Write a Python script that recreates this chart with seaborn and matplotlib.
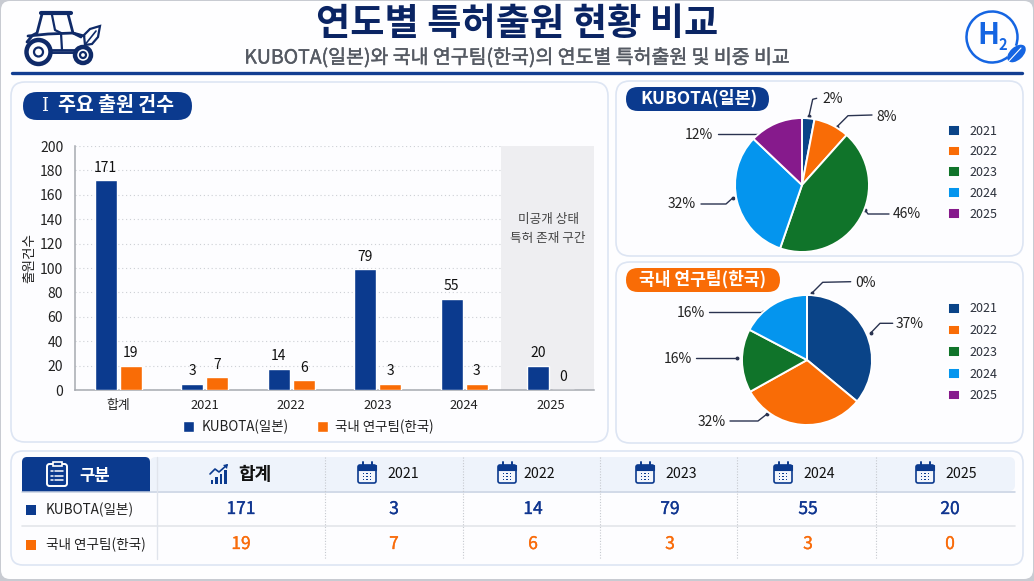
import numpy as np
import pandas as pd
import matplotlib
matplotlib.use("Agg")
import matplotlib.pyplot as plt
import matplotlib.patheffects as pe
import seaborn as sns
from matplotlib.patches import FancyBboxPatch, Rectangle, Circle, Ellipse, Arc, Polygon

# datos
grupos = ["합계", "2021", "2022", "2023", "2024", "2025"]
anios = ["2021", "2022", "2023", "2024", "2025"]
kubota_altura = [172, 5, 17.5, 99, 75, 20]
korea_altura = [20, 10.5, 8, 5, 5, 0]
kubota_labels = ["171", "3", "14", "79", "55", "20"]
korea_labels = ["19", "7", "6", "3", "3", "0"]
pie_kubota = [3.0, 8.6, 43.7, 31.8, 12.9]
pie_korea = [36.0, 30.9, 15.8, 17.3, 0.0]
pie_kubota_labels = ["2%", "8%", "46%", "32%", "12%"]
pie_korea_labels = ["37%", "32%", "16%", "16%", "0%"]

AZUL = "#0B3A8E"
NARANJA = "#F96C06"
MARINO = "#0A2463"
colores_pie = ["#0A4488", "#F96C06", "#10742A", "#0495EE", "#861A8C"]
BORDE = "#DDE5F3"

sns.set_theme(style="white")
plt.rcParams["font.family"] = ["Noto Sans CJK KR", "DejaVu Sans"]

W, H = 1034, 581
fig = plt.figure(figsize=(W / 100, H / 100), dpi=100, facecolor="#C8CBD2")

# lienzo en pixeles para paneles e iconos
bg = fig.add_axes([0, 0, 1, 1], zorder=0)
bg.set_xlim(0, W)
bg.set_ylim(H, 0)
bg.axis("off")


def ejes_px(x0, y0, x1, y1, **kw):
    return fig.add_axes([x0 / W, 1 - y1 / H, (x1 - x0) / W, (y1 - y0) / H], **kw)


def caja(x0, y0, x1, y1, r, fc, ec="none", lw=1, z=1):
    p = FancyBboxPatch((x0, y0), x1 - x0, y1 - y0, boxstyle=f"round,pad=0,rounding_size={r}",
                       fc=fc, ec=ec, lw=lw, zorder=z)
    bg.add_patch(p)


def linea(xs, ys, c="#2A3350", lw=1.0, z=5, **kw):
    bg.plot(xs, ys, color=c, lw=lw, zorder=z, solid_capstyle="round", **kw)


def medio(t, w=0.2):
    # la fuente no trae peso medio: se engrosa un poco el trazo
    t.set_path_effects([pe.withStroke(linewidth=w, foreground=t.get_color())])
    return t


def calendario(cx, cy):
    caja(cx - 9, cy - 8, cx + 9, cy + 10, 2, "#F3F6FC", AZUL, 1.2, 4)
    bg.add_patch(Rectangle((cx - 9, cy - 8), 18, 5, fc=AZUL, ec=AZUL, lw=0.8, zorder=4))
    for dx in (-4.5, 4.5):
        linea([cx + dx, cx + dx], [cy - 11, cy - 6], AZUL, 1.4)
    for dx in (-3.5, 0, 3.5):
        for dy in (0.5, 3.5, 6.5):
            bg.add_patch(Rectangle((cx + dx - 0.8, cy + dy - 0.8), 1.6, 1.6, fc=AZUL, ec="none", zorder=5))


def hoja(cx, cy, w, h, ang, c):
    bg.add_patch(Ellipse((cx, cy), w, h, angle=ang, fc=c, ec="none", zorder=5))


# pagina y tarjetas
caja(1, 1, 1033, 579, 9, "#FEFEFF", z=0.5)
caja(11, 82, 608, 442, 14, "#FDFDFF", BORDE, 1.2)
caja(616, 81, 1023, 256, 14, "#FDFDFF", BORDE, 1.2)
caja(616, 262, 1023, 443, 14, "#FDFDFF", BORDE, 1.2)
caja(11, 451, 1023, 565, 12, "#FDFDFF", BORDE, 1.2)

# cabecera
bg.text(517, 24, "연도별 특허출원 현황 비교", ha="center", va="center", fontsize=26.8,
        fontweight="bold", color=MARINO)
medio(bg.text(517, 58, "KUBOTA(일본)와 국내 연구팀(한국)의 연도별 특허출원 및 비중 비교", ha="center",
              va="center", fontsize=14, color="#555A63"), 0.3)
linea([12, 1022], [73, 73], "#123E92", 2.4)

# tractor
N = "#0F2A68"
linea([41, 71], [13, 13], N, 3)
linea([42, 37, 33], [14, 33, 35], N, 2)
linea([68, 73, 84], [14, 33, 36], N, 2)
linea([52, 55, 61, 62], [15, 30, 33, 50], N, 1.6)
linea([28, 48, 73, 81], [36, 34, 33, 37], N, 2)
linea([27, 32], [42, 36], N, 2)
linea([50, 75], [50, 50], N, 2)
linea([52, 74], [53, 53], N, 1.4)
for cx, cy, r, r2 in [(38.5, 52, 12, 4.5), (83, 55, 8, 3)]:
    bg.add_patch(Circle((cx, cy), r, fc="white", ec=N, lw=3.2, zorder=4))
    bg.add_patch(Circle((cx, cy), r2, fc="white", ec=N, lw=1.6, zorder=5))
bg.add_patch(Polygon([[85, 45], [84, 35], [90, 29], [100, 26], [98, 37], [92, 44]], closed=True,
                     fc="white", ec=N, lw=1.6, zorder=4))
linea([84, 96], [46, 31], N, 1.2)

# logo H2
AZ_H = "#1565E2"
bg.add_patch(Arc((992, 37), 51, 51, theta1=52, theta2=20, ec=AZ_H, lw=1.8, zorder=4))
bg.text(988.5, 35, "H", ha="center", va="center", fontsize=21, fontweight="bold", color=AZ_H)
bg.text(1002.5, 45, "2", ha="center", va="center", fontsize=10.5, fontweight="bold", color=AZ_H)
hoja(1016.5, 53.5, 22, 13, -42, AZ_H)
linea([1008, 1021], [62, 48], "white", 0.8, z=6)

# pildoras de titulo
caja(23, 92, 192, 120, 14, AZUL, z=2)
bg.text(45, 106, "I", ha="center", va="center", fontsize=13, family="DejaVu Serif", color="white", zorder=3)
bg.text(116.5, 105.5, "주요 출원 건수", ha="center", va="center", fontsize=14, fontweight="bold", color="white", zorder=3)
caja(626, 87, 769, 111, 12, AZUL, z=2)
bg.text(699.5, 98.5, "KUBOTA(일본)", ha="center", va="center", fontsize=12.5, fontweight="bold", color="white", zorder=3)
caja(626, 268, 780, 292, 12, NARANJA, z=2)
bg.text(703, 279.5, "국내 연구팀(한국)", ha="center", va="center", fontsize=12.3, fontweight="bold", color="white", zorder=3)

# grafico de barras
df = pd.DataFrame({
    "구분": grupos * 2,
    "출원": kubota_altura + korea_altura,
    "팀": ["KUBOTA(일본)"] * 6 + ["국내 연구팀(한국)"] * 6,
})
ax = ejes_px(75, 146, 594, 390, zorder=2)
ax.patch.set_alpha(0)
sns.barplot(data=df, x="구분", y="출원", hue="팀", palette=[AZUL, NARANJA], width=0.578, gap=0.12,
            saturation=1, ax=ax, zorder=3)
ax.set_xlim(-0.5, 5.5)
ax.set_ylim(0, 200)
ax.set_yticks(range(0, 201, 20))
ax.set_axisbelow(True)
ax.grid(axis="y", ls=(0, (1, 2.5)), color="#CDD0D5", lw=0.8)
ax.grid(axis="x", visible=False)
ax.axvspan(4.425, 5.5, fc="#EEEEF1", ec="none", zorder=1)
for s in ["top", "right"]:
    ax.spines[s].set_visible(False)
for s in ["left", "bottom"]:
    ax.spines[s].set_color("#A6AAB0")
    ax.spines[s].set_linewidth(1.1)
ax.tick_params(axis="y", length=0, pad=8.5, labelsize=10, labelcolor="#222222")
ax.tick_params(axis="x", length=0, pad=6.5, labelsize=9.3, labelcolor="#222222")
ax.set_xlabel("")
ax.set_ylabel("출원건수", fontsize=9.8, color="#222222")
ax.yaxis.set_label_coords(-0.075, 0.54)
ax.bar_label(ax.containers[0], labels=kubota_labels, padding=4, fontsize=10, color="#111111")
ax.bar_label(ax.containers[1], labels=korea_labels, padding=4, fontsize=10, color="#111111")
ax.text(4.97, 140, "미공개 상태", ha="center", va="center", fontsize=9.1, color="#444444")
ax.text(4.97, 124, "특허 존재 구간", ha="center", va="center", fontsize=9.1, color="#444444")
sns.move_legend(ax, "center", bbox_to_anchor=(0.45, -0.152), ncol=2, frameon=False, title=None,
                fontsize=9.7, handlelength=0.82, handleheight=0.82, columnspacing=2.1, handletextpad=0.55,
                labelcolor="#222222")


# tortas
def torta(valores, cx, cy, R, leg_y, leg_sep):
    m = R + 3
    a = ejes_px(cx - m, cy - m, cx + m, cy + m, zorder=2)
    a.patch.set_alpha(0)
    wedges, _ = a.pie(valores, colors=colores_pie, startangle=90, counterclock=False, radius=1,
                      wedgeprops=dict(edgecolor="white", linewidth=1.4))
    a.set_xlim(-m / R, m / R)
    a.set_ylim(-m / R, m / R)
    caja_x, caja_y = (948 - (cx - m)) / (2 * m), 1 - (leg_y + 2 * leg_sep - (cy - m)) / (2 * m)
    a.legend(wedges, anios, loc="center left", bbox_to_anchor=(caja_x, caja_y), frameon=False,
             fontsize=9, handlelength=0.95, handleheight=0.95, handletextpad=0.75,
             labelspacing=(leg_sep - 12.5) / 12.5, labelcolor="#2A2F3A", borderpad=0, borderaxespad=0)
    return a


torta(pie_kubota, 802, 185, 67, 132, 20.3)
torta(pie_korea, 807, 360, 65, 310, 21.2)

# rotulos con lineas guia: texto (x, y), linea
guias_kubota = [
    ((833, 99), [816.7, 812.7, 809], [98.3, 99.3, 116]),
    ((887, 117), [872, 848, 837], [115, 115.7, 126.7]),
    ((907, 214), [889, 868, 865], [214, 214, 210]),
    ((682, 204), [701, 726, 733], [204, 204, 197.7]),
    ((699, 135), [717.7, 762], [134, 134]),
]
guias_korea = [
    ((910, 324), [892.7, 880, 871], [323.3, 323.3, 332.7]),
    ((712, 422), [730, 758, 767], [421, 421, 414]),
    ((678, 359), [696, 737], [358, 358]),
    ((691, 313), [709, 763], [312, 312]),
    ((865, 283), [850.7, 822.7, 812.3], [281.7, 282.3, 292.7]),
]
for etiquetas, guias in [(pie_kubota_labels, guias_kubota), (pie_korea_labels, guias_korea)]:
    for txt, (pos, xs, ys) in zip(etiquetas, guias):
        bg.text(pos[0], pos[1], txt, ha="center", va="center", fontsize=10, color="#222222")
        linea(xs, ys)
        bg.plot(xs[-1], ys[-1], "o", ms=1.8, color="#2A3350", zorder=5)

# tabla inferior
caja(150, 457, 1015, 491, 6, "#EEF3FB", z=2)
bg.add_patch(Rectangle((150, 470), 20, 21, fc="#EEF3FB", ec="none", zorder=2))
caja(22, 457, 150, 492, 5, "#0B3A8E", z=3)
bg.add_patch(Rectangle((22, 475), 128, 17, fc="#0B3A8E", ec="none", zorder=3))
linea([22, 1015], [491.5, 491.5], "#C5D0E2", 1.1, z=3)
linea([22, 1015], [526, 526], "#E3E5EA", 1.2, z=3)
linea([157, 157], [457, 559], "#E0E4EC", 1.0, z=3)
cols = [325, 463, 600, 737, 876]
for x in cols:
    bg.plot([x, x], [457, 559], color="#C6C9CF", lw=0.8, ls=(0, (1, 1.5)), zorder=3)

# portapapeles
caja(47, 464, 67, 486, 2.5, AZUL, "white", 1.4, 4)
bg.add_patch(Rectangle((52.5, 461.5), 9, 4.5, fc=AZUL, ec="white", lw=1.2, zorder=5))
for yy in (471, 475.5, 480):
    linea([51, 53], [yy, yy], "white", 1.1)
    linea([55, 63], [yy, yy], "white", 1.1)
bg.text(95, 476, "구분", ha="center", va="center", fontsize=12, fontweight="bold", color="white", zorder=5)

# icono de tendencia
for x0, h in zip((210.5, 215, 219.5, 224), (4, 7, 10, 14)):
    bg.add_patch(Rectangle((x0, 483.5 - h), 2.6, h, fc=AZUL, ec="none", zorder=4))
linea([210, 215, 219, 227], [474, 469, 472, 465], AZUL, 1.2)
bg.add_patch(Polygon([[228, 464], [223, 465], [227, 469]], closed=True, fc=AZUL, ec="none", zorder=4))
bg.text(255, 474, "합계", ha="center", va="center", fontsize=13, fontweight="bold", color="#111111", zorder=5)

hdr_txt = [403, 539, 681, 819, 961]
hdr_ico = [367, 507, 645, 783, 925]
for anio, xt, xi in zip(anios, hdr_txt, hdr_ico):
    calendario(xi, 473)
    bg.text(xt, 474, anio, ha="center", va="center", fontsize=10.2, color="#111111", zorder=5)

xs_num = [241, 394, 533, 670, 808, 950]
for x, a, b in zip(xs_num, kubota_labels, korea_labels):
    medio(bg.text(x, 509, a, ha="center", va="center", fontsize=12.5, color="#0F3590", zorder=5), 0.25)
    medio(bg.text(x, 544, b, ha="center", va="center", fontsize=12.5, color="#F96C0B", zorder=5), 0.25)

bg.add_patch(Rectangle((26, 505), 10, 10, fc=AZUL, ec="none", zorder=4))
bg.add_patch(Rectangle((26, 540), 10, 10, fc=NARANJA, ec="none", zorder=4))
bg.text(46, 510, "KUBOTA(일본)", ha="left", va="center", fontsize=9.8, color="#222222", zorder=5)
bg.text(46, 545, "국내 연구팀(한국)", ha="left", va="center", fontsize=9.8, color="#222222", zorder=5)

fig.savefig("out.png", dpi=100, facecolor=fig.get_facecolor())
